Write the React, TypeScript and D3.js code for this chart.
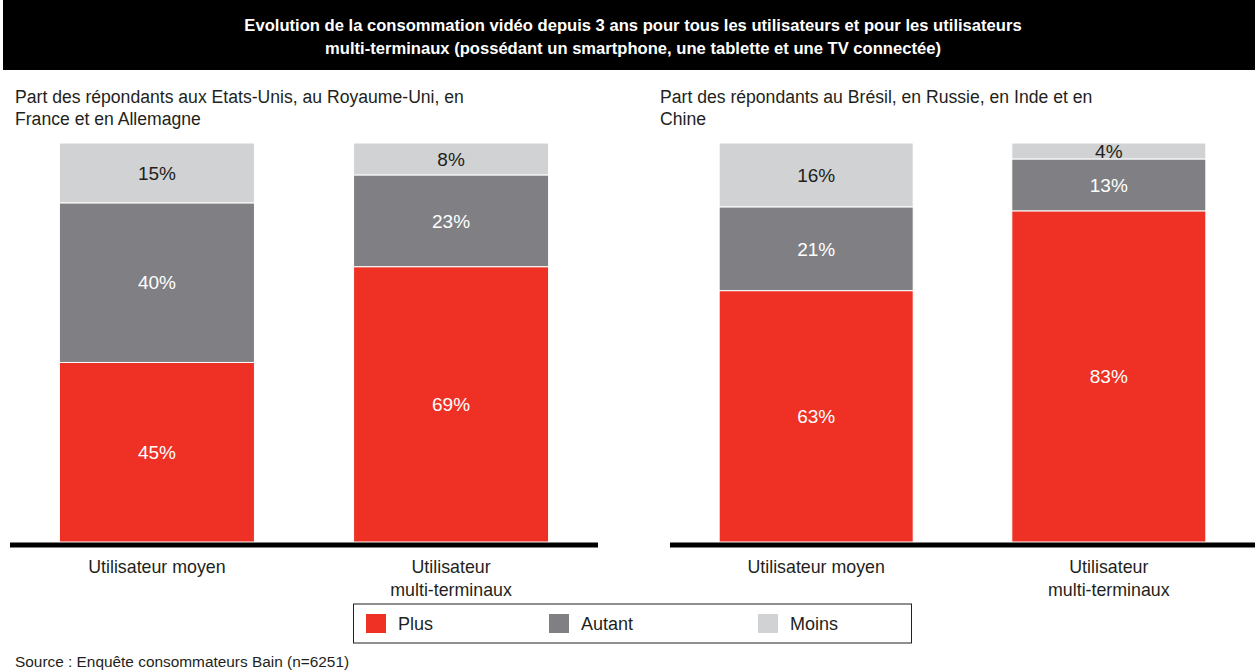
import React from "react";
import * as d3 from "d3";

const categories = ["Utilisateur moyen", "Utilisateur multi-terminaux"];
const categoryLines = [["Utilisateur moyen"], ["Utilisateur", "multi-terminaux"]];
const seriesKeys = ["Plus", "Autant", "Moins"];
const leftPlus = [45, 69];
const leftAutant = [40, 23];
const leftMoins = [15, 8];
const rightPlus = [63, 83];
const rightAutant = [21, 13];
const rightMoins = [16, 4];

const titleLines = [
  "Evolution de la consommation vidéo depuis 3 ans pour tous les utilisateurs et pour les utilisateurs",
  "multi-terminaux (possédant un smartphone, une tablette et une TV connectée)",
];
const leftSubtitle = ["Part des répondants aux Etats-Unis, au Royaume-Uni, en", "France et en Allemagne"];
const rightSubtitle = ["Part des répondants au Brésil, en Russie, en Inde et en", "Chine"];
const sourceText = "Source : Enquête consommateurs Bain (n=6251)";

const COLORS: Record<string, string> = { Plus: "#EE3124", Autant: "#808084", Moins: "#D1D2D4" };
const LABEL_COLORS: Record<string, string> = { Plus: "#ffffff", Autant: "#ffffff", Moins: "#231F20" };
const FONT = "'Liberation Sans', Arial, sans-serif";

function buildRows(plus: number[], autant: number[], moins: number[]) {
  return categories.map((c, i) => ({ cat: c, Plus: plus[i], Autant: autant[i], Moins: moins[i] }));
}

function Panel({ rows, x0, x1, subtitle, subX }: any) {
  const y = d3.scaleLinear().domain([0, 100]).range([542, 143]);
  const x = d3.scaleBand().domain(categories).range([x0, x1]).paddingInner(0.337).paddingOuter(0.168);
  const stacked = d3.stack().keys(seriesKeys)(rows as any);
  return (
    <g>
      {subtitle.map((t: string, i: number) => (
        <text key={i} x={subX} y={103 + i * 22} fontSize={17.6} fill="#231F20" fontFamily={FONT}>{t}</text>
      ))}
      {stacked.map((layer: any) => (
        <g key={layer.key}>
          {layer.map((d: any, i: number) => {
            const cat = categories[i];
            const top = y(d[1]);
            const bot = y(d[0]);
            const v = d[1] - d[0];
            return (
              <g key={cat}>
                <rect x={x(cat)} y={top} width={x.bandwidth()} height={bot - top} fill={COLORS[layer.key]} stroke="#ffffff" strokeWidth={1} />
                <text x={(x(cat) as number) + x.bandwidth() / 2} y={(top + bot) / 2} dy="0.36em" textAnchor="middle" fontSize={19} fill={LABEL_COLORS[layer.key]} fontFamily={FONT}>{v}%</text>
              </g>
            );
          })}
        </g>
      ))}
      <line x1={x0} x2={x1} y1={545} y2={545} stroke="#000" strokeWidth={5} />
      {categories.map((c, i) => (
        <text key={c} x={(x(c) as number) + x.bandwidth() / 2} y={573} textAnchor="middle" fontSize={17.8} fill="#231F20" fontFamily={FONT}>
          {categoryLines[i].map((l, j) => (
            <tspan key={j} x={(x(c) as number) + x.bandwidth() / 2} dy={j === 0 ? 0 : 23}>{l}</tspan>
          ))}
        </text>
      ))}
    </g>
  );
}

export default function App() {
  const leftRows = buildRows(leftPlus, leftAutant, leftMoins);
  const rightRows = buildRows(rightPlus, rightAutant, rightMoins);
  const legendX = [366, 549, 758];
  return (
    <svg width={1255} height={672} style={{ position: "absolute", left: 0, top: 0, background: "#fff" }}>
      <rect x={3} y={0} width={1252} height={70} fill="#000" />
      {titleLines.map((t, i) => (
        <text key={i} x={633} y={31 + i * 23} textAnchor="middle" fill="#fff" fontSize={16.6} fontWeight="bold" fontFamily={FONT}>{t}</text>
      ))}
      <Panel rows={leftRows} x0={10} x1={598} subtitle={leftSubtitle} subX={15} />
      <Panel rows={rightRows} x0={670} x1={1255} subtitle={rightSubtitle} subX={660} />
      <rect x={353.5} y={604} width={558} height={39} fill="#fff" stroke="#231F20" strokeWidth={1} />
      {seriesKeys.map((k, i) => (
        <g key={k}>
          <rect x={legendX[i]} y={614} width={20} height={19} fill={COLORS[k]} />
          <text x={legendX[i] + 32} y={630} fontSize={18} fill="#231F20" fontFamily={FONT}>{k}</text>
        </g>
      ))}
      <text x={15} y={667} fontSize={15.4} fill="#231F20" fontFamily={FONT}>{sourceText}</text>
    </svg>
  );
}
